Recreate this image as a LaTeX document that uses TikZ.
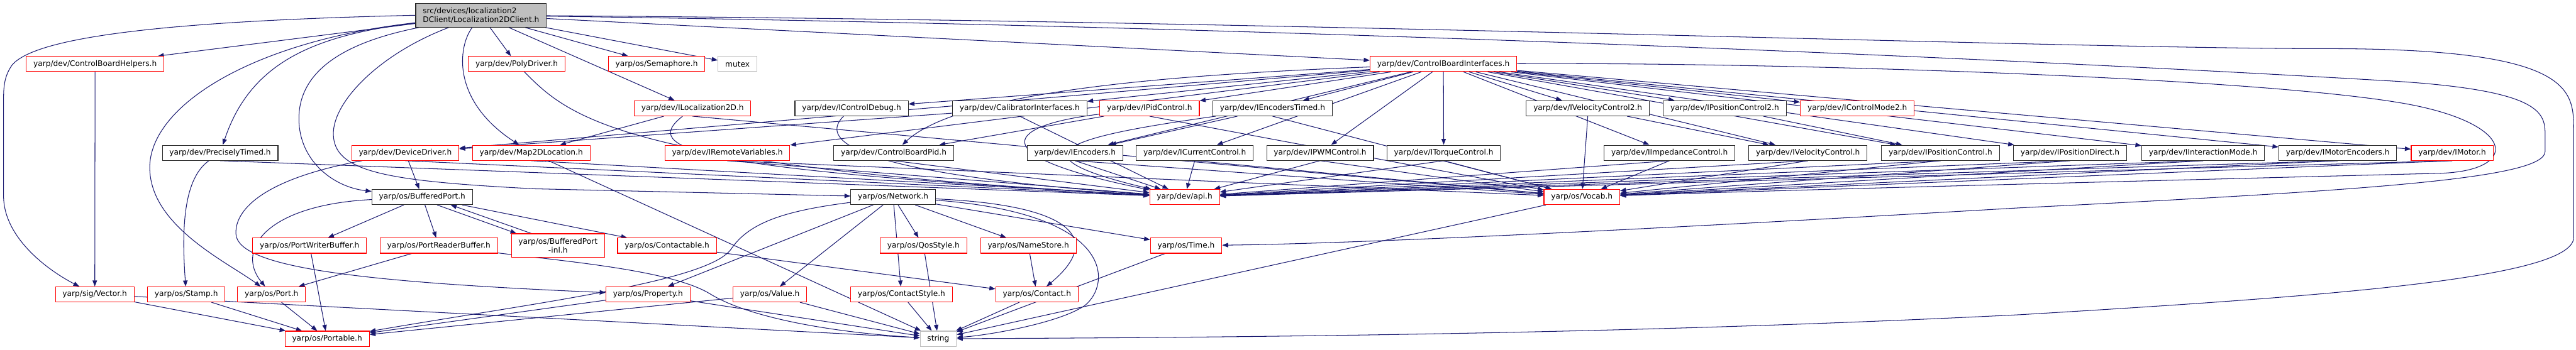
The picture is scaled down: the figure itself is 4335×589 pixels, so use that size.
\documentclass[tikz,border=0pt]{standalone}
\usepackage{fontspec}
\setmainfont{DejaVu Sans}
\usetikzlibrary{arrows.meta}
\usetikzlibrary{backgrounds}
\definecolor{inclblue}{HTML}{191970}
\definecolor{grey75}{HTML}{BFBFBF}
\definecolor{cutred}{HTML}{FF0000}
\tikzset{
  filebox/.style={draw=black!85, fill=white, line width=1.2pt, font=\fontsize{12.9}{15.5}\selectfont, inner xsep=12pt, inner ysep=1pt, minimum height=25.5pt},
  cutbox/.style={filebox, draw=cutred},
  extbox/.style={filebox, draw=grey75},
  mainbox/.style={filebox, fill=grey75, align=left, minimum height=40pt},
  incl/.style={draw=inclblue, line width=1.1pt, -{Triangle[length=10pt,width=7.5pt]}},
}

\begin{document}
\begin{tikzpicture}[x=1pt, y=-1pt]
    \useasboundingbox (0,0) rectangle (4335,589);

    \node[mainbox] (main) at (809.5,25.7) {src/devices/localization2\\DClient/Localization2DClient.h};

    % Row 1
    \node[cutbox] (cbhelp) at (160,107.8) {yarp/dev/ControlBoardHelpers.h};
    \node[cutbox] (polydrv) at (869.5,107.8) {yarp/dev/PolyDriver.h};
    \node[cutbox] (sema) at (1105,107.8) {yarp/os/Semaphore.h};
    \node[extbox] (mutex) at (1241,107.8) {mutex};
    \node[cutbox] (cbi) at (2429,107.8) {yarp/dev/ControlBoardInterfaces.h};

    % Row 2
    \node[cutbox] (iloc) at (1165.5,182.4) {yarp/dev/ILocalization2D.h};
    \node[filebox] (ictrldbg) at (1433,182.4) {yarp/dev/IControlDebug.h};
    \node[filebox] (calib) at (1716,182.4) {yarp/dev/CalibratorInterfaces.h};
    \node[cutbox] (ipid) at (1934.5,182.4) {yarp/dev/IPidControl.h};
    \node[filebox] (iencts) at (2141.5,182.4) {yarp/dev/IEncodersTimed.h};
    \node[filebox] (ivel2) at (2672,182.4) {yarp/dev/IVelocityControl2.h};
    \node[filebox] (ipos2) at (2902.5,182.4) {yarp/dev/IPositionControl2.h};
    \node[cutbox] (icm2) at (3125.5,182.4) {yarp/dev/IControlMode2.h};

    % Row 3
    \node[filebox] (ptimed) at (370.5,257.3) {yarp/dev/PreciselyTimed.h};
    \node[cutbox] (devdrv) at (682,257.3) {yarp/dev/DeviceDriver.h};
    \node[cutbox] (map2d) at (894,257.3) {yarp/dev/Map2DLocation.h};
    \node[cutbox] (iremote) at (1224,257.3) {yarp/dev/IRemoteVariables.h};
    \node[filebox] (cbpid) at (1504,257.3) {yarp/dev/ControlBoardPid.h};
    \node[filebox] (ienc) at (1809,257.3) {yarp/dev/IEncoders.h};
    \node[filebox] (icurr) at (2010.5,257.3) {yarp/dev/ICurrentControl.h};
    \node[filebox] (ipwm) at (2221.5,257.3) {yarp/dev/IPWMControl.h};
    \node[filebox] (itorq) at (2429.5,257.3) {yarp/dev/ITorqueControl.h};
    \node[filebox] (iimp) at (2809.5,257.3) {yarp/dev/IImpedanceControl.h};
    \node[filebox] (ivel) at (3042.5,257.3) {yarp/dev/IVelocityControl.h};
    \node[filebox] (ipos) at (3265.5,257.3) {yarp/dev/IPositionControl.h};
    \node[filebox] (iposd) at (3483.5,257.3) {yarp/dev/IPositionDirect.h};
    \node[filebox] (iinter) at (3707.5,257.3) {yarp/dev/IInteractionMode.h};
    \node[filebox] (imenc) at (3934,257.3) {yarp/dev/IMotorEncoders.h};
    \node[cutbox] (imotor) at (4126.5,257.3) {yarp/dev/IMotor.h};

    % Row 4
    \node[filebox] (bport) at (710.5,331.8) {yarp/os/BufferedPort.h};
    \node[filebox] (network) at (1503,331.8) {yarp/os/Network.h};
    \node[cutbox] (api) at (1993.5,331.8) {yarp/dev/api.h};
    \node[cutbox] (vocab) at (2662,331.8) {yarp/os/Vocab.h};

    % Row 5
    \node[cutbox] (pwbuf) at (521,413.7) {yarp/os/PortWriterBuffer.h};
    \node[cutbox] (prbuf) at (738.5,413.7) {yarp/os/PortReaderBuffer.h};
    \node[cutbox, align=center, minimum height=40pt] (bpinl) at (939,413.7) {yarp/os/BufferedPort\\-inl.h};
    \node[cutbox] (contable) at (1122.5,413.7) {yarp/os/Contactable.h};
    \node[cutbox] (qos) at (1554,413.7) {yarp/os/QosStyle.h};
    \node[cutbox] (namestore) at (1730.5,413.7) {yarp/os/NameStore.h};
    \node[cutbox] (time) at (1996,413.7) {yarp/os/Time.h};

    % Row 6
    \node[cutbox] (vector) at (159.5,495.8) {yarp/sig/Vector.h};
    \node[cutbox] (stamp) at (313.5,495.8) {yarp/os/Stamp.h};
    \node[cutbox] (port) at (457,495.8) {yarp/os/Port.h};
    \node[cutbox] (property) at (1090.5,495.8) {yarp/os/Property.h};
    \node[cutbox] (value) at (1295.5,495.8) {yarp/os/Value.h};
    \node[cutbox] (cstyle) at (1517,495.8) {yarp/os/ContactStyle.h};
    \node[cutbox] (contact) at (1745,495.8) {yarp/os/Contact.h};

    % Row 7
    \node[cutbox] (portable) at (550.5,570.5) {yarp/os/Portable.h};
    \node[extbox] (string) at (1579,570.5) {string};

    \begin{scope}[on background layer]
    % Straight includes
    \foreach \src/\dst in {main/cbhelp, main/polydrv, main/sema, main/mutex, main/iloc, main/cbi,
        cbhelp/vector, vector/portable, stamp/portable, port/portable, pwbuf/portable, property/portable, value/portable,
        bport/pwbuf, bport/prbuf, bport/contable, prbuf/port, devdrv/bport, contable/contact,
        network/property, network/value, network/cstyle, network/qos, network/namestore, network/time,
        property/string, value/string, cstyle/string, qos/string, contact/string, time/string, vocab/string, vector/string, map2d/string,
        namestore/contact, iloc/map2d,
        cbi/devdrv, cbi/iremote, cbi/ictrldbg, cbi/calib, cbi/ipid, cbi/iencts, cbi/ienc, cbi/icurr, cbi/ipwm, cbi/itorq, cbi/iimp,
        cbi/ivel2, cbi/ipos2, cbi/icm2, cbi/ivel, cbi/ipos, cbi/iposd, cbi/iinter, cbi/imenc, cbi/imotor,
        calib/devdrv, ipid/cbpid, iencts/ienc, ivel2/ivel, ipos2/ipos}
        \draw[incl] (\src) -- (\dst);

    % Into api.h and Vocab.h
    \foreach \src in {ptimed, devdrv, map2d, iremote, cbpid, calib, ienc, icurr, ipwm, itorq, iimp, ivel, ipos, iposd, iinter, imenc, imotor}
        \draw[incl] (\src.south) -- (api);
    \foreach \src in {iloc, iremote, ipid, iencts, ienc, icurr, ipwm, itorq, iimp, ivel, ipos, iposd, iinter, imenc, imotor, ivel2}
        \draw[incl] (\src.south) -- (vocab);

    % BufferedPort <-> BufferedPort-inl
    \draw[incl] ([xshift=25pt]bport.south) -- ([xshift=-70pt]bpinl.north);
    \draw[incl] ([xshift=-45pt]bpinl.north) -- ([xshift=48pt]bport.south);

    % Curved includes
    \draw[incl] (main.west) .. controls (300,35) and (60,60) .. (20,110) .. controls (6,130) and (6,150) .. (6,170) -- (6,330) .. controls (6,400) and (80,455) .. (vector);
    \draw[incl] (main) .. controls (420,70) and (252,180) .. (252,282) .. controls (252,380) and (380,440) .. (port);
    \draw[incl] (main) .. controls (520,60) and (420,110) .. (ptimed);
    \draw[incl] (main) .. controls (560,75) and (503,130) .. (503,200) .. controls (503,270) and (560,315) .. (bport);
    \draw[incl] (main) .. controls (640,90) and (561,170) .. (561,225) .. controls (561,290) and (650,305) .. (900,318) -- (network);
    \draw[incl] (main) .. controls (770,80) and (760,170) .. (map2d);
    \draw[incl] (main) .. controls (2200,35) and (3400,80) .. (3900,82) .. controls (4331,80) and (4331,150) .. (4331,220) -- (4331,400) .. controls (4331,470) and (3900,500) .. (3400,530) .. controls (2800,560) and (2200,568) .. (string);
    \draw[incl] (main) .. controls (2200,45) and (3400,100) .. (4000,135) .. controls (4283,150) and (4283,190) .. (4283,230) -- (4283,255) .. controls (4283,300) and (4000,320) .. (3400,350) .. controls (2800,385) and (2300,410) .. (time);
    \draw[incl] (cbi) .. controls (3000,105) and (3800,130) .. (4050,175) .. controls (4240,210) and (4240,290) .. (4100,292) .. controls (3600,305) and (3000,320) .. (vocab);
    \draw[incl] (cbi) .. controls (2000,125) and (1620,150) .. (cbpid);
    \draw[incl] (ptimed) .. controls (310,300) and (305,380) .. (stamp);
    \draw[incl] (bport) .. controls (450,345) and (395,420) .. (port);
    \draw[incl] (devdrv) .. controls (450,300) and (395,350) .. (397,394) .. controls (400,450) and (600,475) .. (property);
    \draw[incl] (network) .. controls (1320,355) and (1260,375) .. (1230,420) .. controls (1190,475) and (900,510) .. (portable);
    \draw[incl] (prbuf) .. controls (950,440) and (1130,455) .. (1195,495) .. controls (1260,535) and (1400,560) .. (string);
    \draw[incl] (network) .. controls (1800,345) and (1860,400) .. (contact);
    \draw[incl] (network) .. controls (1880,360) and (1870,480) .. (1825,515) .. controls (1780,545) and (1660,565) .. (string);
    \draw[incl] (iloc) .. controls (1080,250) and (1150,285) .. (api);
    \draw[incl] (polydrv) .. controls (960,200) and (1050,280) .. (api);
    \draw[incl] (ictrldbg) .. controls (1385,230) and (1400,290) .. (api);
    \draw[incl] (ipid) .. controls (1700,210) and (1640,260) .. (api);
    \draw[incl] (iencts) .. controls (1800,230) and (1690,260) .. (api);
    \end{scope}
\end{tikzpicture}
\end{document}
